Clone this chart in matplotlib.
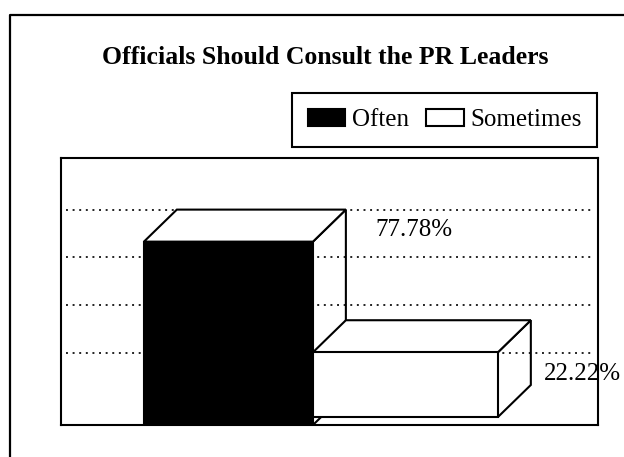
import matplotlib
matplotlib.use('Agg')
import matplotlib.pyplot as plt
from matplotlib.patches import Polygon
from matplotlib.lines import Line2D

# data
categories = ['Often', 'Sometimes']
values = [77.78, 22.22]
value_labels = ['77.78%', '22.22%']
title = 'Officials Should Consult the PR Leaders'

# layout / style
face_colors = ['black', 'white']
widths = [0.955, 1.045]
bases = [-14.3, -10.3]            # bars start below the "floor" like in the scan
grid_vals = [93.7, 70.1, 46.0, 21.9]
dx, dy = 0.186, 16.1              # depth of the 3d look
label_dx = [0.83, 0.78]
label_dy = [5.9, -10.9]
lw = 1.5

plt.rcParams['font.family'] = ['Liberation Serif', 'DejaVu Serif']

W, H = 624, 457
fig = plt.figure(figsize=(W / 100, H / 100), dpi=100)

# outer frame (only left and top are visible in the scan)
fig.add_artist(Line2D([9.5 / W, 9.5 / W, 1.0], [0.0, 1 - 15 / H, 1 - 15 / H],
                      transform=fig.transFigure, color='black', lw=1.6))

fig.text(325.5 / W, 1 - 64 / H, title, ha='center', va='baseline',
         fontsize=18.5, fontweight='bold')

'------------------ PLOT AREA ------------------'
l, r, t, b = 61, 598, 158, 425
ax = fig.add_axes([l / W, 1 - b / H, (r - l) / W, (b - t) / H])
ax.set_xlim(-0.946, 2.088)
ax.set_ylim(-14.3, 119.8)
ax.set_xticks([])
ax.set_yticks([])
for s in ax.spines.values():
    s.set_linewidth(lw)

for g in grid_vals:
    ax.axhline(g, xmin=0.009, xmax=0.989, color='#222222', lw=1.4,
               ls=(0, (1, 2.4)), zorder=1)

z = 2
for i, (v, base, w, fc) in enumerate(zip(values, bases, widths, face_colors)):
    x0 = i - w / 2
    x1 = i + w / 2
    side = Polygon([(x1, v), (x1 + dx, v + dy), (x1 + dx, base + dy), (x1, base)],
                   closed=True, fill=False, edgecolor='black', lw=lw, zorder=z)
    top = Polygon([(x0, v), (x1, v), (x1 + dx, v + dy), (x0 + dx, v + dy)],
                  closed=True, facecolor='white', edgecolor='black', lw=lw, zorder=z + 1)
    ax.add_patch(side)
    ax.add_patch(top)
    ax.bar(i, v - base, bottom=base, width=w, color=fc, edgecolor='black',
           lw=lw, zorder=z + 2, label=categories[i])
    ax.text(i + label_dx[i], v + label_dy[i], value_labels[i], ha='left',
            va='center', fontsize=18, zorder=10)
    z += 3

leg = fig.legend(loc='upper right', bbox_to_anchor=(597 / W, 1 - 93 / H), ncol=2,
                 fontsize=18, frameon=True, fancybox=False, edgecolor='black',
                 framealpha=1, borderaxespad=0, borderpad=0.63, handlelength=1.5,
                 handleheight=0.7, handletextpad=0.25, columnspacing=0.7)
leg.get_frame().set_linewidth(lw)

plt.savefig('out.png', dpi=100)
